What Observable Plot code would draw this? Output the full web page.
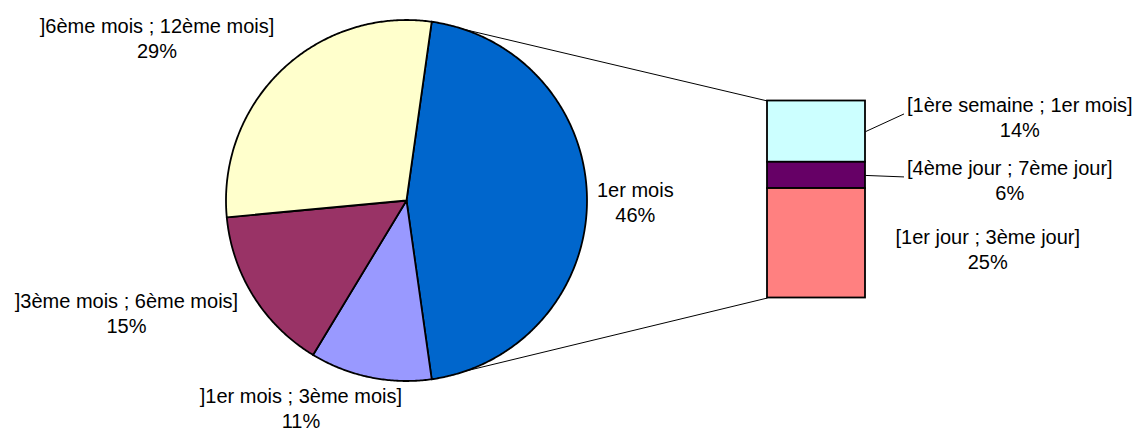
<!DOCTYPE html>
<html><head><meta charset="utf-8">
<script src="https://cdn.jsdelivr.net/npm/d3@7"></script>
<script src="https://cdn.jsdelivr.net/npm/@observablehq/plot@0.6"></script>
<style>html,body{margin:0;padding:0;background:#fff;} #chart svg{display:block}</style>
</head><body><div id="chart"></div>
<script>
// ---- Data ----
const pieCategories = ["1er mois", "]1er mois ; 3ème mois]", "]3ème mois ; 6ème mois]", "]6ème mois ; 12ème mois]"];
const pieValues = [46, 11, 15, 29];
const barCategories = ["[1ère semaine ; 1er mois]", "[4ème jour ; 7ème jour]", "[1er jour ; 3ème jour]"];
const barValues = [14, 6, 25];

// ---- Styles ----
const pieColors = ["#0066CC", "#9999FF", "#993366", "#FFFFCC"];
const barColors = ["#CCFFFF", "#660066", "#FF8080"];
const fontFamily = '"Liberation Sans", Arial, sans-serif';

// ---- Layout ----
const W = 1143, H = 432;
const pieCenter = [406, 200], pieRadius = 180.5;
const barBox = {x1: 767, x2: 865, y1: 100.5, y2: 297.5};
const fontSize = 20, lineHeight = 1.25;
const pieLabelGap = 10, pieLabelHalfH = 20;
const pieLabelNudge = [[0, 1], [-47, 1], [-24, 0], [-37, -11]];
const barLabelGap = [41.5, 41.5, 30];
const barLabelNudge = [-14.7, 4.5, 5.2];
const barLeader = [true, true, false];

const ctx = document.createElement("canvas").getContext("2d");
ctx.font = `${fontSize}px ${fontFamily}`;
const textW = s => d3.max(s.split("\n"), l => ctx.measureText(l).width);

// pie geometry
const total = d3.sum(pieValues);
const span0 = 2 * Math.PI * pieValues[0] / total;
const a0 = Math.PI / 2 - span0 / 2;
const arcs = d3.pie().sort(null).value(d => d).startAngle(a0).endAngle(a0 + 2 * Math.PI)(pieValues);
const polar = (a, r) => ({x: pieCenter[0] + r * Math.sin(a), y: pieCenter[1] - r * Math.cos(a)});

const sliceMarks = arcs.map((a, i) => {
  const pts = [{x: pieCenter[0], y: pieCenter[1]}];
  const n = Math.max(2, Math.ceil((a.endAngle - a.startAngle) / (Math.PI / 360)));
  for (let k = 0; k <= n; k++) pts.push(polar(a.startAngle + (a.endAngle - a.startAngle) * k / n, pieRadius));
  return Plot.line(pts, {x: "x", y: "y", curve: "linear-closed", fill: pieColors[i], stroke: "black", strokeWidth: 1.8, strokeLinejoin: "round"});
});

const pieLabels = arcs.map((a, i) => {
  const mid = (a.startAngle + a.endAngle) / 2;
  const ux = Math.sin(mid), uy = -Math.cos(mid);
  const text = `${pieCategories[i]}\n${pieValues[i]}%`;
  const w = textW(text);
  const p = polar(mid, pieRadius + pieLabelGap);
  return {text, x: p.x + ux * w / 2 + pieLabelNudge[i][0], y: p.y + uy * pieLabelHalfH + pieLabelNudge[i][1]};
});

// bar geometry
const barScale = d3.scaleLinear().domain([0, d3.sum(barValues)]).range([barBox.y1, barBox.y2]);
let acc = 0;
const barRects = barValues.map((v, i) => {
  const r = {i, y1: barScale(acc), y2: barScale(acc + v)};
  acc += v;
  return r;
});
const barLabels = barRects.map((r, i) => {
  const text = `${barCategories[i]}\n${barValues[i]}%`;
  const w = textW(text);
  const left = barBox.x2 + barLabelGap[i];
  return {text, x: left + w / 2, y: (r.y1 + r.y2) / 2 + barLabelNudge[i], left, mid: (r.y1 + r.y2) / 2};
});
const leaders = barLabels.filter((d, i) => barLeader[i]).map(d => ({x1: barBox.x2, y1: d.mid, x2: d.left - 3, y2: d.y - 3}));

const p0 = polar(arcs[0].startAngle, pieRadius), p1 = polar(arcs[0].endAngle, pieRadius);
const connectors = [
  {x1: p0.x, y1: p0.y, x2: barBox.x1, y2: barBox.y1},
  {x1: p1.x, y1: p1.y, x2: barBox.x1, y2: barBox.y2}
];

const chart = Plot.plot({
  width: W, height: H,
  margin: 0,
  x: {domain: [0, W], range: [0, W], axis: null},
  y: {domain: [0, H], range: [0, H], axis: null},
  style: {fontFamily, background: "#fff"},
  marks: [
    Plot.link(connectors, {x1: "x1", y1: "y1", x2: "x2", y2: "y2", stroke: "black", strokeWidth: 1}),
    ...sliceMarks,
    Plot.rect(barRects, {x1: () => barBox.x1, x2: () => barBox.x2, y1: "y1", y2: "y2", fill: d => barColors[d.i], stroke: "black", strokeWidth: 1.8}),
    Plot.link(leaders, {x1: "x1", y1: "y1", x2: "x2", y2: "y2", stroke: "black", strokeWidth: 1}),
    Plot.text([...pieLabels, ...barLabels], {x: "x", y: "y", text: "text", fontSize, lineHeight, textAnchor: "middle", lineAnchor: "middle", fill: "black"})
  ]
});
document.getElementById("chart").appendChild(chart);
</script>
</body></html>
